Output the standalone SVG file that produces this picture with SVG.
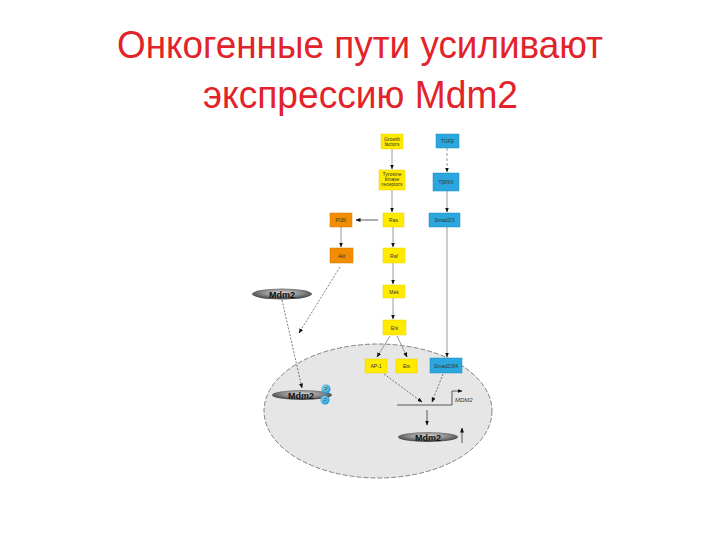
<svg xmlns="http://www.w3.org/2000/svg" width="720" height="540" viewBox="0 0 720 540">
<defs>
<style>
.title{font-family:"Liberation Sans","Open Sans",sans-serif;font-size:39px;fill:#E2232A}
.bt{font-family:"Liberation Sans",Arial,sans-serif;font-size:5px;text-anchor:middle;fill:#333}
.yel{fill:#FFEA00;stroke:#E8D000;stroke-width:0.5}
.blu{fill:#2BA6DE;stroke:#1E8CC0;stroke-width:0.5}
.org{fill:#F28C00;stroke:#D67800;stroke-width:0.5}
.gl{stroke:#9A9A9A;stroke-width:1;fill:none}
.bl{stroke:#333;stroke-width:0.8;fill:none}
.dl{stroke:#444;stroke-width:0.7;fill:none;stroke-dasharray:2,1.5}
.mt{font-family:"Liberation Sans",Arial,sans-serif;font-size:9px;font-weight:bold;text-anchor:middle;fill:#111}
</style>
<radialGradient id="eg" cx="50%" cy="40%" r="55%">
<stop offset="0" stop-color="#D8D8D8"/>
<stop offset="0.6" stop-color="#8A8A8A"/>
<stop offset="1" stop-color="#4A4A4A"/>
</radialGradient>
<radialGradient id="pg" cx="40%" cy="40%" r="60%">
<stop offset="0" stop-color="#9BE2FA"/>
<stop offset="1" stop-color="#1A9BD6"/>
</radialGradient>
<marker id="ah" markerWidth="5" markerHeight="5" refX="4.5" refY="2.5" orient="auto" markerUnits="userSpaceOnUse">
<path d="M0,0.5 L5,2.5 L0,4.5 Z" fill="#111"/>
</marker>
</defs>
<rect width="720" height="540" fill="#fff"/>
<text class="title" x="360" y="58" text-anchor="middle" textLength="486" lengthAdjust="spacingAndGlyphs">Онкогенные пути усиливают</text>
<text class="title" x="360.5" y="108" text-anchor="middle" textLength="315" lengthAdjust="spacingAndGlyphs">экспрессию Mdm2</text>

<g id="nucleus">
<ellipse cx="378" cy="411" rx="114" ry="67" fill="#E6E6E6" stroke="#555" stroke-width="0.7" stroke-dasharray="5,2"/>
</g>

<g id="connectors">
<line class="gl" x1="392" y1="149" x2="392" y2="169" marker-end="url(#ah)"/>
<line class="gl" x1="447" y1="148" x2="447" y2="172" stroke-dasharray="3,2" marker-end="url(#ah)"/>
<line class="gl" x1="392" y1="190" x2="392" y2="212" marker-end="url(#ah)"/>
<line class="gl" x1="447" y1="191" x2="447" y2="212" marker-end="url(#ah)"/>
<line class="bl" x1="378" y1="220" x2="356" y2="220" marker-end="url(#ah)"/>
<line class="gl" x1="341" y1="227" x2="341" y2="247" marker-end="url(#ah)"/>
<line class="gl" x1="393" y1="227" x2="393" y2="247" marker-end="url(#ah)"/>
<line class="gl" x1="393" y1="263" x2="393" y2="284" marker-end="url(#ah)"/>
<line class="gl" x1="393" y1="298" x2="393" y2="319" marker-end="url(#ah)"/>
<line class="gl" x1="447" y1="227" x2="447" y2="357" marker-end="url(#ah)"/>
<line class="dl" x1="340" y1="267" x2="299" y2="333" marker-end="url(#ah)"/>
<line class="dl" x1="282" y1="300" x2="302" y2="388" stroke="#666" marker-end="url(#ah)"/>
<line class="gl" x1="390" y1="336" x2="377" y2="357" marker-end="url(#ah)"/>
<line class="gl" x1="397" y1="336" x2="407" y2="357" marker-end="url(#ah)"/>
<line class="dl" x1="384" y1="374" x2="422" y2="402" marker-end="url(#ah)"/>
<line class="dl" x1="443" y1="374" x2="432" y2="402" marker-end="url(#ah)"/>
<line class="bl" x1="397" y1="405" x2="452" y2="405"/>
<polyline class="bl" points="452,405 452,391 462,391" stroke-width="0.6" marker-end="url(#ah)"/>
<line class="bl" x1="427" y1="410" x2="427" y2="425" marker-end="url(#ah)"/>
<line class="bl" x1="462" y1="443" x2="462" y2="428" marker-end="url(#ah)"/>
</g>

<g id="growth-factors"><rect class="yel" x="381" y="134" width="22" height="15"/><text class="bt" x="392" y="140.5">Growth</text><text class="bt" x="392" y="145.5">factors</text></g>
<g id="tgfb"><rect class="blu" x="436" y="134" width="23" height="14"/><text class="bt" x="447.5" y="143">TGFβ</text></g>
<g id="tkr"><rect class="yel" x="379" y="170" width="26" height="20"/><text class="bt" x="392" y="176">Tyrosine</text><text class="bt" x="392" y="181">kinase</text><text class="bt" x="392" y="186">receptors</text></g>
<g id="tbr"><rect class="blu" x="433" y="173" width="26" height="18"/><text class="bt" x="446" y="184">TβRI/II</text></g>
<g id="pi3k"><rect class="org" x="330" y="213" width="22" height="14"/><text class="bt" x="341" y="222">PI3K</text></g>
<g id="ras"><rect class="yel" x="383" y="213" width="21" height="14"/><text class="bt" x="393.5" y="222">Ras</text></g>
<g id="smad-cyto"><rect class="blu" x="429" y="213" width="31" height="14"/><text class="bt" x="444.5" y="222">Smad2/3</text></g>
<g id="akt"><rect class="org" x="330" y="248" width="23" height="15"/><text class="bt" x="341.5" y="257.5">Akt</text></g>
<g id="raf"><rect class="yel" x="383" y="248" width="22" height="15"/><text class="bt" x="394" y="257.5">Raf</text></g>
<g id="mek"><rect class="yel" x="383" y="285" width="22" height="13"/><text class="bt" x="394" y="293.5">Mek</text></g>
<g id="erk"><rect class="yel" x="383" y="320" width="23" height="15"/><text class="bt" x="394.5" y="329.5">Erk</text></g>
<g id="mdm2-cyto"><ellipse cx="282" cy="294" rx="30" ry="5.5" fill="url(#eg)"/><text class="mt" x="282" y="297.5">Mdm2</text></g>
<g id="ap1"><rect class="yel" x="365" y="359" width="22" height="14"/><text class="bt" x="376" y="368">AP-1</text></g>
<g id="ets"><rect class="yel" x="396" y="359" width="21" height="14"/><text class="bt" x="406.5" y="368">Ets</text></g>
<g id="smad-nuc"><rect class="blu" x="430" y="358" width="32" height="15"/><text class="bt" x="446" y="367.5">Smad2/3/4</text></g>
<g id="mdm2-p"><ellipse cx="302" cy="395" rx="30" ry="5" fill="url(#eg)"/><text class="mt" x="301" y="398.5">Mdm2</text>
<circle cx="326" cy="389" r="4.5" fill="url(#pg)"/><text class="bt" x="326" y="391" font-size="5" fill="#fff">P</text>
<circle cx="325" cy="400" r="4.5" fill="url(#pg)"/><text class="bt" x="325" y="402" font-size="5" fill="#fff">P</text></g>
<g id="mdm2-gene"><text x="455" y="402" font-family="Liberation Sans,Arial,sans-serif" font-size="6" font-style="italic" fill="#333">MDM2</text></g>
<g id="mdm2-nuc"><ellipse cx="428" cy="437" rx="30" ry="5" fill="url(#eg)"/><text class="mt" x="428" y="440.5">Mdm2</text></g>
</svg>
